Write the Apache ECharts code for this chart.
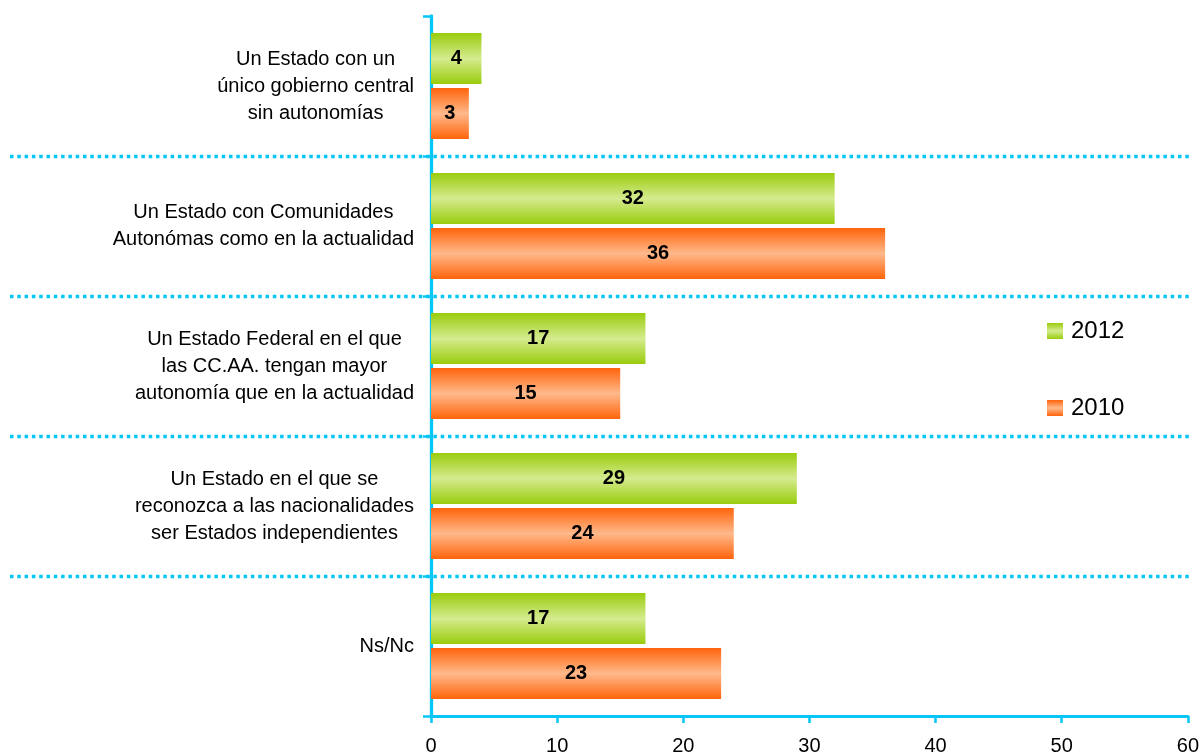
<!DOCTYPE html>
<html>
<head>
<meta charset="utf-8">
<script src="https://cdn.jsdelivr.net/npm/echarts@6/dist/echarts.min.js"></script>
<style>
  html, body { margin: 0; padding: 0; background: #ffffff; }
  #chart { width: 1202px; height: 756px; }
</style>
</head>
<body>
<div id="chart"></div>
<script>
// Survey answers: preferred territorial organisation of the State (%)
const categories = [
  'Un Estado con un\núnico gobierno central\nsin autonomías',
  'Un Estado con Comunidades\nAutonómas como en la actualidad',
  'Un Estado Federal en el que\nlas CC.AA. tengan mayor\nautonomía que en la actualidad',
  'Un Estado en el que se\nreconozca a las nacionalidades\nser Estados independientes',
  'Ns/Nc'
];
const seriesNames = ['2012', '2010'];
const values2012 = [4, 32, 17, 29, 17];
const values2010 = [3, 36, 15, 24, 23];
const xAxisMin = 0;
const xAxisMax = 60;
const xAxisStep = 10;

const FONT = '"Liberation Sans", Arial, sans-serif';
const CYAN = '#05C6F6';

function band(edge, middle) {
  return new echarts.graphic.LinearGradient(0, 0, 0, 1, [
    { offset: 0, color: edge },
    { offset: 0.5, color: middle },
    { offset: 1, color: edge }
  ]);
}

const barLabel = {
  show: true,
  position: 'inside',
  color: '#000000',
  fontFamily: FONT,
  fontWeight: 'bold',
  fontSize: 20
};

const chart = echarts.init(document.getElementById('chart'), null, { renderer: 'canvas' });

chart.setOption({
  backgroundColor: '#ffffff',
  animation: false,
  legend: {
    orient: 'vertical',
    left: 1042,
    top: 314,
    padding: 5,
    itemWidth: 16,
    itemHeight: 16,
    itemGap: 53,
    icon: 'rect',
    data: seriesNames,
    textStyle: { color: '#000000', fontFamily: FONT, fontSize: 24, lineHeight: 24, padding: [0, 0, 0, 3] }
  },
  grid: [
    { left: 431, right: 14, top: 16, bottom: 40, containLabel: false },
    { left: 10, right: 10, top: 16, bottom: 40, containLabel: false }
  ],
  xAxis: [
    {
      type: 'value',
      gridIndex: 0,
      min: xAxisMin,
      max: xAxisMax,
      interval: xAxisStep,
      axisLine: { show: true, lineStyle: { color: CYAN, width: 3 } },
      axisTick: { show: true, length: 7, lineStyle: { color: CYAN, width: 2.5 } },
      axisLabel: { color: '#000000', fontFamily: FONT, fontSize: 20, margin: 20 },
      splitLine: { show: false }
    },
    {
      type: 'value',
      gridIndex: 1,
      min: 0,
      max: 1,
      show: false
    }
  ],
  yAxis: [
    {
      type: 'category',
      gridIndex: 0,
      data: categories,
      inverse: true,
      axisLine: { show: true, lineStyle: { color: CYAN, width: 3.3 } },
      axisTick: { show: true, length: 8, lineStyle: { color: CYAN, width: 2.5 } },
      axisLabel: {
        margin: 17,
        formatter: function (v) {
          return v.split('\n').map(function (s) { return '{c|' + s + '}'; }).join('\n');
        },
        rich: {
          c: { align: 'center', color: '#000000', fontFamily: FONT, fontSize: 20, lineHeight: 27 }
        }
      },
      splitLine: { show: false }
    },
    {
      // dotted separators between the answer groups, running across the full width
      type: 'category',
      gridIndex: 1,
      data: categories,
      inverse: true,
      axisLine: { show: false },
      axisTick: { show: false },
      axisLabel: { show: false },
      splitLine: {
        show: true,
        showMinLine: false,
        showMaxLine: false,
        lineStyle: { color: CYAN, width: 3.3, type: [3.5, 3.8], cap: 'butt' }
      },
      z: 0
    }
  ],
  series: [
    {
      name: seriesNames[0],
      type: 'bar',
      xAxisIndex: 0,
      yAxisIndex: 0,
      data: values2012,
      barWidth: 51,
      barGap: '8%',
      itemStyle: { color: band('#99CC0C', '#D5EB8F') },
      label: barLabel
    },
    {
      name: seriesNames[1],
      type: 'bar',
      xAxisIndex: 0,
      yAxisIndex: 0,
      data: values2010,
      barWidth: 51,
      barGap: '8%',
      itemStyle: { color: band('#FF640C', '#FFB98B') },
      label: barLabel
    }
  ]
});
</script>
</body>
</html>
